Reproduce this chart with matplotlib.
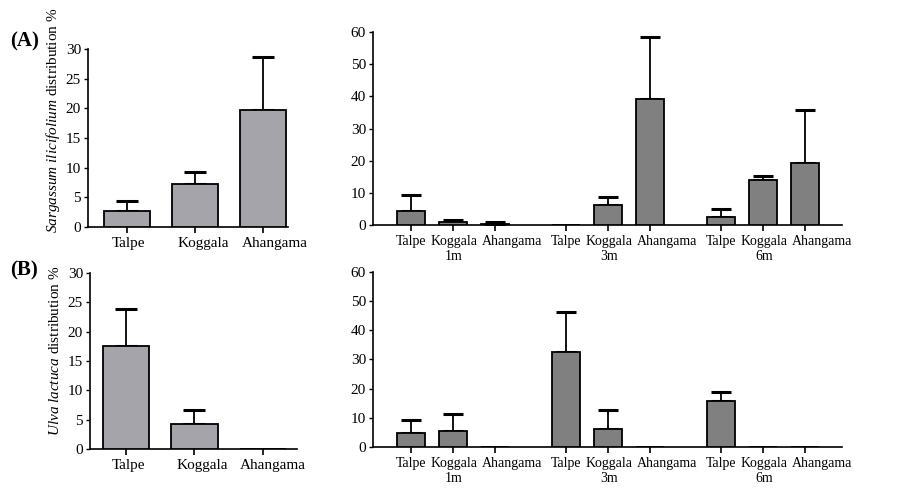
import numpy as np
import matplotlib.pyplot as plt
from matplotlib.transforms import ScaledTranslation

plt.rcParams['font.family'] = ['Liberation Serif', 'DejaVu Serif']
plt.rcParams['mathtext.fontset'] = 'custom'
plt.rcParams['mathtext.it'] = 'Liberation Serif:italic'
plt.rcParams['mathtext.rm'] = 'Liberation Serif'
plt.rcParams['font.size'] = 11

# ---- data ----
SITES = ["Talpe", "Koggala", "Ahangama"]
DEPTHS = ["1m", "3m", "6m"]

sarg_site = [2.7, 7.3, 19.7]
sarg_site_err = [1.7, 1.9, 9.0]
sarg_depth = [4.4, 0.8, 0.4, 0.0, 6.2, 39.1, 2.6, 14.0, 19.3]
sarg_depth_err = [4.9, 0.7, 0.6, 0.0, 2.5, 19.2, 2.4, 1.2, 16.4]

ulva_site = [17.6, 4.2, 0.0]
ulva_site_err = [6.2, 2.5, 0.0]
ulva_depth = [4.8, 5.4, 0.0, 32.6, 6.1, 0.0, 15.9, 0.0, 0.0]
ulva_depth_err = [4.5, 5.9, 0.0, 13.8, 6.5, 0.0, 2.8, 0.0, 0.0]

LIGHT = "#a4a4aa"
DARK = "#808080"
GROUP_STEP = 3.69

x_site = np.arange(len(SITES))
x_depth = np.concatenate([np.arange(3) + i * GROUP_STEP for i in range(len(DEPTHS))])

depth_labels = []
for d in DEPTHS:
    for j, s in enumerate(SITES):
        depth_labels.append(f"{s}\n{d}" if j == 1 else s)

fig = plt.figure(figsize=(9.19, 4.90), dpi=100)


def style(ax, xlabelsize):
    for side in ["top", "right"]:
        ax.spines[side].set_visible(False)
    for side in ["left", "bottom"]:
        ax.spines[side].set_linewidth(1.2)
    ax.tick_params(axis="y", direction="out", length=3, width=1, pad=2, labelsize=11)
    ax.tick_params(axis="x", direction="out", length=4, width=1.2, pad=3, labelsize=xlabelsize)


def shift_labels(ax, shifts_px):
    # the original labels sit a little right of their ticks
    labels = ax.get_xticklabels()
    for i, lab in enumerate(labels):
        dx = shifts_px[i % len(shifts_px)]
        lab.set_transform(lab.get_transform() + ScaledTranslation(dx / 100, 0, fig.dpi_scale_trans))


def bars(ax, x, vals, errs, color, capsize):
    vals = np.asarray(vals)
    errs = np.asarray(errs)
    ax.bar(x, vals, width=0.68, color=color, edgecolor="black", linewidth=1.3, zorder=3)
    m = errs > 0
    ax.errorbar(x[m], vals[m], yerr=[np.zeros(m.sum()), errs[m]], fmt="none",
                ecolor="black", elinewidth=1.3, capsize=capsize, capthick=2.2, zorder=2)


# (A) Sargassum by site
ax1 = fig.add_axes([0.0958, 0.5367, 0.2176, 0.3633])
bars(ax1, x_site, sarg_site, sarg_site_err, LIGHT, 8)
ax1.set_xlim(-0.57, 2.37)
ax1.set_ylim(0, 30)
ax1.set_yticks(np.arange(0, 31, 5))
ax1.set_xticks(x_site)
ax1.set_xticklabels(SITES)
ax1.set_ylabel(r"$\mathit{Sargassum\ ilicifolium}$ distribution %", fontsize=11)
ax1.yaxis.set_label_coords(-0.13, 0.60)
style(ax1, 11)
shift_labels(ax1, [2, 8, 12])

# (A) Sargassum by depth
ax2 = fig.add_axes([0.4059, 0.5408, 0.5103, 0.3939])
bars(ax2, x_depth, sarg_depth, sarg_depth_err, DARK, 7)
ax2.set_xlim(-0.9, x_depth[-1] + 0.88)
ax2.set_ylim(0, 60)
ax2.set_yticks(np.arange(0, 61, 10))
ax2.set_xticks(x_depth)
ax2.set_xticklabels(depth_labels, linespacing=1.25)
style(ax2, 10)
shift_labels(ax2, [0, 1, 17])

# (B) Ulva by site
ax3 = fig.add_axes([0.0979, 0.0837, 0.2252, 0.3592])
bars(ax3, x_site, ulva_site, ulva_site_err, LIGHT, 8)
ax3.set_xlim(-0.53, 2.5)
ax3.set_ylim(0, 30)
ax3.set_yticks(np.arange(0, 31, 5))
ax3.set_xticks(x_site)
ax3.set_xticklabels(SITES)
ax3.set_ylabel(r"$\mathit{Ulva\ lactuca}$ distribution %", fontsize=11)
ax3.yaxis.set_label_coords(-0.135, 0.557)
style(ax3, 11)
shift_labels(ax3, [2, 8, 10])

# (B) Ulva by depth
ax4 = fig.add_axes([0.4059, 0.0878, 0.5103, 0.3571])
bars(ax4, x_depth, ulva_depth, ulva_depth_err, DARK, 7)
ax4.set_xlim(-0.9, x_depth[-1] + 0.88)
ax4.set_ylim(0, 60)
ax4.set_yticks(np.arange(0, 61, 10))
ax4.set_xticks(x_depth)
ax4.set_xticklabels(depth_labels, linespacing=1.25)
style(ax4, 10)
shift_labels(ax4, [0, 1, 17])

fig.text(0.011, 0.916, "(A)", fontsize=15, fontweight="bold", va="center", ha="left")
fig.text(0.011, 0.447, "(B)", fontsize=15, fontweight="bold", va="center", ha="left")

fig.savefig("out.png", dpi=100)
